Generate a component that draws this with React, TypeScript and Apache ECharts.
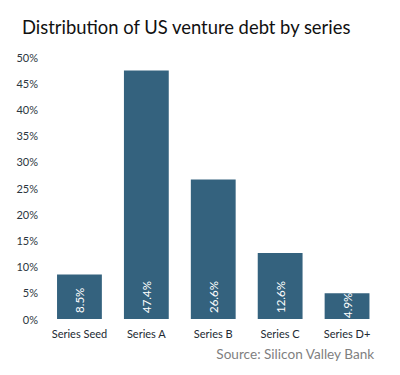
import React, { useEffect, useRef } from "react";
import * as echarts from "echarts";

const categories = ["Series Seed", "Series A", "Series B", "Series C", "Series D+"];
const values = [8.5, 47.4, 26.6, 12.6, 4.9];
const yTicks = [0, 5, 10, 15, 20, 25, 30, 35, 40, 45, 50];

export default function App() {
  const ref = useRef<HTMLDivElement>(null);
  useEffect(() => {
    const chart = echarts.init(ref.current!, null, { renderer: "svg" });
    const data = values.map((v) =>
      v < 6 ? { value: v, label: { distance: 1 } } : { value: v }
    );
    chart.setOption({
      animation: false,
      textStyle: { fontFamily: "Lato" },
      title: [
        {
          text: "Distribution of US venture debt by series",
          left: 17,
          top: 13,
          textStyle: { fontFamily: "Lato", fontSize: 18.4, fontWeight: "normal", color: "#111" },
        },
        {
          text: "Source: Silicon Valley Bank",
          right: 20,
          top: 342,
          textStyle: { fontFamily: "Lato", fontSize: 13.6, fontWeight: "normal", color: "#7f7f7f" },
        },
      ],
      grid: { left: 46, right: 19.5, top: 57, bottom: 56 },
      xAxis: {
        type: "category",
        data: categories,
        axisLine: { show: false },
        axisTick: { show: false },
        axisLabel: { fontFamily: "Lato", fontSize: 11, color: "#222a33", margin: 9, interval: 0 },
      },
      yAxis: {
        type: "value",
        min: yTicks[0],
        max: yTicks[yTicks.length - 1],
        interval: 5,
        splitLine: { show: false },
        axisLine: { show: false },
        axisTick: { show: false },
        axisLabel: {
          fontFamily: "Lato",
          fontSize: 11,
          color: "#2b3640",
          margin: 8,
          formatter: (v: number) => v + "%",
        },
      },
      series: [
        {
          type: "bar",
          data,
          barCategoryGap: "33%",
          itemStyle: { color: "#34627e" },
          label: {
            show: true,
            position: "insideBottom",
            rotate: 90,
            align: "left",
            verticalAlign: "middle",
            distance: 6,
            overflow: "none",
            fontFamily: "Lato",
            fontSize: 11.5,
            color: "#ffffff",
            formatter: (p: any) => p.value.toFixed(1) + "%",
          },
          labelLayout: { hideOverlap: false },
        },
      ],
    });
    return () => chart.dispose();
  }, []);
  return <div ref={ref} style={{ width: 400, height: 375, position: "absolute", left: 0, top: 0 }} />;
}
